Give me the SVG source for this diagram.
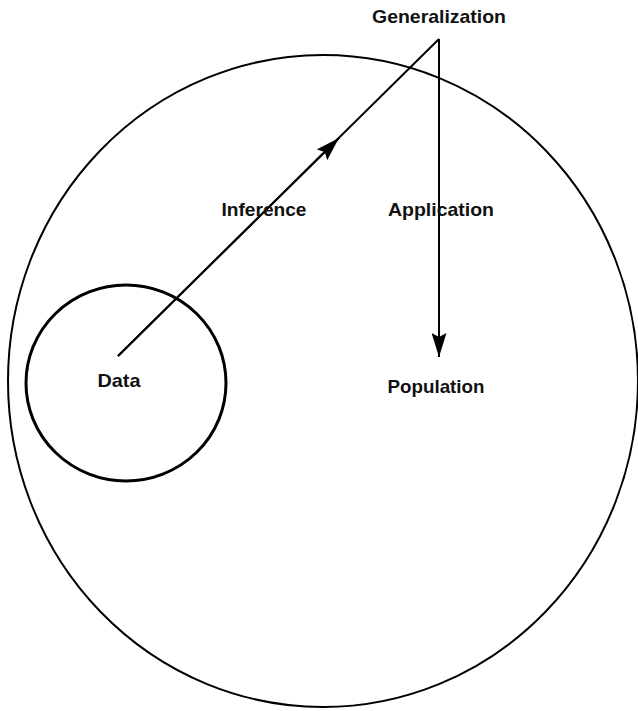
<svg xmlns="http://www.w3.org/2000/svg" width="638" height="711" viewBox="0 0 638 711">
<defs>
<style>
.lbl{font-family:"Liberation Sans",Arial,sans-serif;font-size:19px;font-weight:bold;fill:#111;text-anchor:middle}
.ring{fill:none;stroke:#000}
.conn{fill:none;stroke:#000;stroke-width:2}
</style>
<marker id="ah2" viewBox="0 0 24 15" refX="24" refY="7.5" markerWidth="24" markerHeight="15" markerUnits="userSpaceOnUse" orient="auto">
<path d="M0,0 L24,7.5 L0,15 L4,7.5 Z" fill="#000"/>
</marker>
</defs>
<rect width="638" height="711" fill="#fff"/>
<g id="population-circle"><ellipse class="ring" cx="323" cy="381" rx="315" ry="326" stroke-width="2"/></g>
<g id="data-circle"><ellipse class="ring" cx="126" cy="383" rx="100" ry="98" stroke-width="3"/></g>
<g id="connectors">
<line class="conn" x1="118" y1="356" x2="439" y2="39"/>
<line class="conn" x1="118" y1="356" x2="339" y2="138" marker-end="url(#ah2)"/>
<line class="conn" x1="439" y1="39" x2="439" y2="357" marker-end="url(#ah2)"/>
</g>
<g id="generalization"><text class="lbl" x="439" y="23" textLength="134" lengthAdjust="spacingAndGlyphs">Generalization</text></g>
<g id="inference"><text class="lbl" x="264" y="216" textLength="85" lengthAdjust="spacingAndGlyphs">Inference</text></g>
<g id="application"><text class="lbl" x="441" y="216" textLength="106" lengthAdjust="spacingAndGlyphs">Application</text></g>
<g id="population"><text class="lbl" x="436" y="393" textLength="97" lengthAdjust="spacingAndGlyphs">Population</text></g>
<g id="data"><text class="lbl" x="119" y="387" textLength="43" lengthAdjust="spacingAndGlyphs">Data</text></g>
</svg>
